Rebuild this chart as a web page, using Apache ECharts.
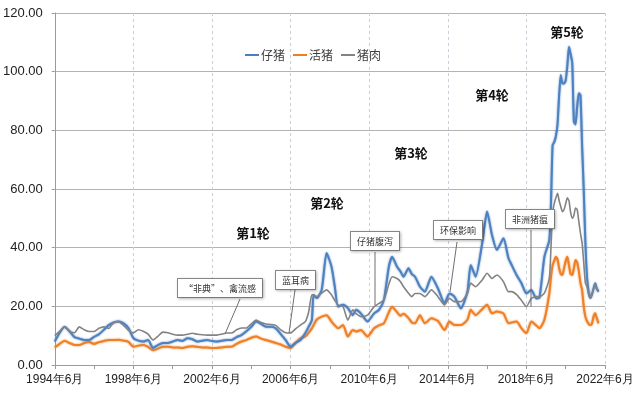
<!DOCTYPE html>
<html>
<head>
<meta charset="utf-8">
<script src="https://cdn.jsdelivr.net/npm/echarts@6/dist/echarts.min.js"></script>
<style>
html,body{margin:0;padding:0;background:#fff;}
#main{width:640px;height:401px;}
</style>
</head>
<body>
<div id="main"></div>
<script>
var seriesNames = ['仔猪', '活猪', '猪肉'];
var tickLabels = ['1994年6月','1998年6月','2002年6月','2006年6月','2010年6月','2014年6月','2018年6月','2022年6月'];
var yTicks = [0, 20, 40, 60, 80, 100, 120];

var dates = [
'1994-06','1994-09','1994-12',
'1995-03','1995-06','1995-09','1995-12',
'1996-03','1996-06','1996-09','1996-12',
'1997-03','1997-06','1997-09','1997-12',
'1998-03','1998-06','1998-09','1998-12',
'1999-03','1999-06','1999-09','1999-12',
'2000-03','2000-06','2000-09','2000-12',
'2001-03','2001-06','2001-09','2001-12',
'2002-03','2002-06','2002-09','2002-12',
'2003-03','2003-06','2003-09','2003-12',
'2004-03','2004-06','2004-09','2004-12',
'2005-03','2005-06','2005-09','2005-12',
'2006-03','2006-06','2006-09','2006-12',
'2007-03','2007-05','2007-07','2007-08','2007-10',
'2008-01','2008-04','2008-07','2008-09','2008-11',
'2009-02','2009-05','2009-08','2009-10',
'2010-01','2010-05','2010-09','2010-12',
'2011-03','2011-06','2011-08','2011-11',
'2012-01','2012-03','2012-06','2012-08','2012-10',
'2013-01','2013-04','2013-08','2013-12',
'2014-04','2014-07','2014-10',
'2015-02','2015-06','2015-08','2015-11',
'2016-03','2016-06','2016-09','2016-12',
'2017-04','2017-07','2017-09','2017-12',
'2018-03','2018-06','2018-09','2018-12',
'2019-02','2019-05','2019-08','2019-09','2019-10','2019-11','2019-12',
'2020-01','2020-02','2020-03','2020-04','2020-05','2020-06','2020-07','2020-08','2020-09','2020-10','2020-11','2020-12',
'2021-01','2021-02','2021-03','2021-04','2021-05','2021-06','2021-07','2021-08','2021-09','2021-10','2021-11','2021-12',
'2022-01','2022-02'
];

var piglet = [
8, 11, 13,
11.5, 9.5, 9, 8.5,
8.5, 9.6, 10.5, 12,
13.6, 14.5, 14.8, 14.2,
12.6, 9.2, 8.3, 8,
8.5, 5.8, 6.8, 7.5,
7.5, 8, 8.5, 8.2,
9.1, 8.8, 8, 8.3,
8.5, 8.2, 8.0, 8.3,
8.5, 8.5, 9.5, 10.2,
11.5, 13, 14.8, 14,
13, 13, 12.5, 10.5,
8.5, 6.2, 7.5, 8.5,
10.9, 13, 15.3, 23.9, 22.8,
25.6, 38.2, 33.5, 26.7, 19.9,
20.5, 19.4, 17, 18.8,
17.5, 14.8, 17.6, 18.8,
22.2, 33.5, 36.9, 33.5,
32, 30.1, 33, 31, 30.1,
26.7, 25, 30.1, 26.1,
21, 24.4, 23.3,
19.3, 25, 34.1, 30.1,
41.5, 52.3, 44.3, 39.2,
43.2, 36.5, 34.1, 30.7,
27.9, 24.4, 25.6, 22.7,
23, 36.9, 42.6, 55, 75, 76, 78,
82, 92, 98.9, 96, 96, 97, 102, 108.5, 106, 103, 83, 82,
88, 92.6, 92, 75, 60, 42, 30, 25, 22.8, 24, 26, 27.9,
26, 25
];

var liveHog = [
6, 7.2, 8.3,
7.5, 6.8, 6.8, 7.5,
7.8, 7.2, 7.8, 8.2,
8.5, 8.5, 8.6, 8.3,
7.9, 6.2, 6.6, 6.8,
6.2, 5.0, 5.6, 6.2,
6.2, 6, 6, 5.8,
6.2, 6.4, 6.2, 6,
6, 5.8, 5.8, 6.0,
6.2, 6.2, 7.2, 8,
8.5, 9.3, 9.7, 9.0,
8.5, 8, 7.5, 7,
6.2, 5.8, 7.5, 9.1,
9.7, 11, 12.5, 13.5, 15.5,
16.5, 17, 14.8, 13.5, 12.5,
13.6, 9.7, 11.9, 11.4,
11.9, 9.7, 12.5, 13.5,
14.2, 18, 19.9, 18,
16.8, 17.5, 16, 14.5, 14.2,
17, 14.2, 15.9, 15.0,
11.9, 14.8, 13.6,
13.6, 15.4, 18.8, 17,
19, 20.5, 17.6, 18.2,
17.6, 14.2, 14.5, 14.8,
12.5, 10.8, 14.8, 13.5,
12.5, 15.4, 24.4, 30, 34, 35.5, 36.9,
36, 33, 31, 30.7, 33, 35.5, 36.9, 34, 31, 30.7, 33, 35.8,
35, 32, 28, 25.6, 20, 16.5, 15, 14, 13.6, 14, 16.5, 17.6,
16, 14.2
];

var pork = [
10, 11.5, 13,
11.5, 11, 13, 12,
11.4, 11.4, 12.5, 13,
12.5, 14.5, 14.8, 13.5,
11.8, 10.9, 12, 11.5,
10.5, 8.5, 9.8, 11.2,
11, 10.5, 10.2, 10.2,
10.5, 10.8, 10.5, 10.3,
10.2, 10.2, 10.2, 10.5,
10.9, 10.9, 12, 12.6,
12.6, 14, 15.3, 14.5,
14, 13.8, 13.5, 12,
11, 10.9, 12.3, 13.6,
14.8, 18, 23.9, 23.9, 23.3,
24.5, 25.6, 23.9, 22, 20.5,
19.9, 15.3, 18.8, 17.5,
16.5, 17, 19.9, 21,
22.2, 27.5, 30.1, 29.5,
28.5, 26.7, 24.5, 23.3, 24.4,
24.4, 23.3, 25.6, 23.3,
20.5, 22.7, 21.6,
21.6, 24.4, 27.9, 26.7,
29, 31.3, 29.5, 30.7,
28.4, 25, 25, 24,
22, 19.9, 22.7, 23.3,
23.3, 24.5, 29.6, 40, 51.7, 55, 57,
58.5, 56, 54, 52.3, 53, 55, 57, 56, 52, 50, 51, 53.5,
53, 49, 45, 41.6, 35, 28, 26.7, 24, 22.8, 24, 26, 27.2,
26, 25.5
];

var roundLabels = ['第1轮', '第2轮', '第3轮', '第4轮', '第5轮'];
var eventLabels = ['“非典”、禽流感', '蓝耳病', '仔猪腹泻', '环保影响', '非洲猪瘟'];

function monthIndex(d) {
  var p = d.split('-');
  return (parseInt(p[0], 10) - 1994) * 12 + (parseInt(p[1], 10) - 6);
}
function pairs(vals) {
  return dates.map(function (d, i) { return [monthIndex(d), vals[i]]; });
}

var FONT = "'Liberation Sans Narrow','Liberation Sans',sans-serif";
var CJK = "'Noto Sans CJK SC',sans-serif";
var colors = ['#4a7ebf', '#ef7d22', '#838383'];

var chart = echarts.init(document.getElementById('main'), null, {renderer: 'canvas'});

function boxText(x, y, txt) {
  return {
    type: 'text', x: x, y: y, z: 100,
    style: {
      text: txt, font: '9px ' + CJK, fill: '#333333',
      backgroundColor: '#ffffff', borderColor: '#8a8a8a', borderWidth: 1,
      padding: [5, 6, 4, 6],
      shadowColor: 'rgba(0,0,0,0.25)', shadowBlur: 3, shadowOffsetX: 1, shadowOffsetY: 1
    }
  };
}
function callout(x1, y1, x2, y2) {
  return { type: 'line', z: 99, shape: {x1: x1, y1: y1, x2: x2, y2: y2},
    style: {stroke: '#707070', lineWidth: 1} };
}
function roundText(cx, cy, txt) {
  return { type: 'text', x: cx, y: cy, z: 100,
    style: { text: txt, font: 'bold 13px ' + CJK, fill: '#111', align: 'center', verticalAlign: 'middle' } };
}
function glow(c) {
  return { width: 2, color: c, shadowColor: c, shadowBlur: 2, opacity: 0.95 };
}

var option = {
  backgroundColor: '#ffffff',
  animation: false,
  color: colors,
  legend: {
    data: seriesNames,
    left: 240, top: 44,
    icon: 'rect', itemWidth: 14, itemHeight: 2, itemGap: 8,
    textStyle: { fontFamily: CJK, fontSize: 12, color: '#404040', padding: [0, 0, 0, -3] }
  },
  grid: { left: 53, right: 35, top: 13, bottom: 36 },
  xAxis: {
    type: 'value', min: 0, max: 336, interval: 48,
    axisLine: { show: true, lineStyle: { color: '#9a9a9a', width: 1 } },
    axisTick: { show: true, length: 4, lineStyle: { color: '#9a9a9a' } },
    minorTick: { show: true, splitNumber: 2, length: 4, lineStyle: { color: '#9a9a9a' } },
    splitLine: { show: true, lineStyle: { color: '#c8d0dc', type: [3, 3], width: 1 } },
    axisLabel: {
      fontFamily: FONT, fontSize: 12, color: '#222', margin: 9,
      formatter: function (v) { return tickLabels[Math.round(v / 48)] || ''; }
    }
  },
  yAxis: {
    type: 'value', min: yTicks[0], max: yTicks[yTicks.length - 1], interval: 20,
    axisLine: { show: true, lineStyle: { color: '#9a9a9a', width: 1 } },
    axisTick: { show: true, length: 3, lineStyle: { color: '#9a9a9a' } },
    splitLine: { show: true, lineStyle: { color: '#b4b4b4', width: 1 } },
    axisLabel: {
      fontFamily: FONT, fontSize: 13, color: '#222', margin: 12,
      formatter: function (v) { return v.toFixed(2); }
    }
  },
  series: [
    { name: seriesNames[0], type: 'line', data: pairs(piglet), showSymbol: false, smooth: 0.2,
      lineStyle: glow(colors[0]), z: 3 },
    { name: seriesNames[1], type: 'line', data: pairs(liveHog), showSymbol: false, smooth: 0.2,
      lineStyle: glow(colors[1]), z: 2 },
    { name: seriesNames[2], type: 'line', data: pairs(pork), showSymbol: false, smooth: 0.2,
      lineStyle: { width: 1.6, color: colors[2] }, z: 4 }
  ],
  graphic: [
    callout(240, 299, 225, 334),
    boxText(178, 279, eventLabels[0]),
    callout(295, 290, 289, 333),
    boxText(276, 271, eventLabels[1]),
    callout(375, 252, 375, 305),
    boxText(351, 232, eventLabels[2]),
    callout(457, 242, 450, 292),
    boxText(434, 221, eventLabels[3]),
    callout(531, 230, 531, 307),
    boxText(506, 210, eventLabels[4]),
    roundText(253, 233, roundLabels[0]),
    roundText(327, 203, roundLabels[1]),
    roundText(411, 153, roundLabels[2]),
    roundText(492, 95, roundLabels[3]),
    roundText(567, 32, roundLabels[4])
  ]
};
chart.setOption(option);
</script>
</body>
</html>
